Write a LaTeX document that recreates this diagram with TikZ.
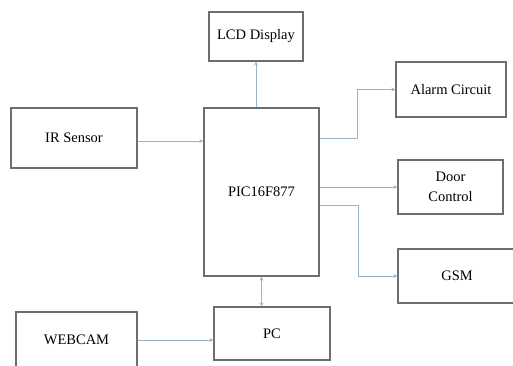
\documentclass[tikz,border=0pt]{standalone}
\usepackage{fontspec}
\setmainfont{Liberation Serif}
\usetikzlibrary{positioning}
\definecolor{boxgray}{HTML}{6E6E6E}
\definecolor{linkblue}{HTML}{9AB2C8}
\tikzset{
  block/.style={draw=boxgray, line width=1.2pt, font=\fontsize{14.5}{20}\selectfont, align=center, inner sep=0pt},
  link/.style={->, >=stealth, linkblue, line width=0.8pt}
}
\begin{document}
\begin{tikzpicture}[x=1pt, y=-1pt]
            \useasboundingbox (0,0) rectangle (513,365);
            \clip (0,0) rectangle (513,365);
            % blocks
            \node[block, minimum width=94pt, minimum height=49pt] (lcd) at (256,36.5) {LCD Display};
            \node[block, minimum width=126pt, minimum height=60pt] (ir) at (74,138) {IR Sensor};
            \node[block, minimum width=115pt, minimum height=168pt] (pic) at (261.5,192) {PIC16F877};
            \node[block, minimum width=110pt, minimum height=55pt] (alarm) at (451,89.5) {Alarm Circuit};
            \node[block, minimum width=105pt, minimum height=54pt] (door) at (450.5,187) {Door\\Control};
            \node[block, minimum width=118pt, minimum height=54pt] (gsm) at (457,276) {GSM};
            \node[block, minimum width=121pt, minimum height=56pt] (webcam) at (76.5,340) {WEBCAM};
            \node[block, minimum width=116pt, minimum height=53pt] (pc) at (272,333.5) {PC};
            % connections
            \draw[link] (ir.east |- 0,141) -- (pic.west |- 0,141);
            \draw[link] (pic.north -| lcd) -- (lcd.south);
            \draw[link] (pic.east |- 0,138) -| ([xshift=-38pt]alarm.west) -- (alarm.west);
            \draw[link] (pic.east |- door) -- (door.west);
            \draw[link] (pic.east |- 0,205) -| ([xshift=-39pt]gsm.west) -- (gsm.west);
            \draw[link, <->] (pic.south) -- (pic.south |- pc.north);
            \draw[link] (webcam.east) -- (webcam.east -| pc.west);
        \end{tikzpicture}
\end{document}
